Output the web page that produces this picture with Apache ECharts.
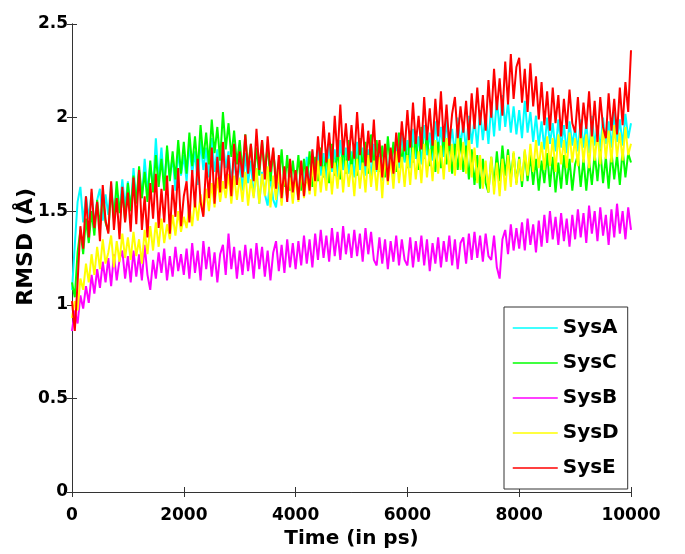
<!DOCTYPE html>
<html>
<head>
<meta charset="utf-8">
<script src="https://cdn.jsdelivr.net/npm/echarts@6/dist/echarts.min.js"></script>
<style>html,body{margin:0;padding:0;background:#fff}#c{width:685px;height:554px}</style>
</head>
<body>
<div id="c"></div>
<script>
// Time axis: 0 .. 10000 ps, samples evenly spaced
const T_MIN = 0, T_MAX = 10000;
const xTicks = [0, 2000, 4000, 6000, 8000, 10000];
const yTicks = [0, 0.5, 1, 1.5, 2, 2.5];
const seriesNames = ['SysA', 'SysC', 'SysB', 'SysD', 'SysE'];

const sysA = [
1.08,1.32,1.55,1.63,1.44,1.58,1.46,1.60,1.42,1.56,1.62,1.45,1.59,1.48,1.65,1.47,1.61,1.50,1.67,1.52,
1.66,1.50,1.73,1.55,1.71,1.57,1.78,1.60,1.75,1.62,1.89,1.66,1.84,1.63,1.83,1.68,1.79,1.61,1.82,1.69,
1.80,1.66,1.86,1.70,1.82,1.64,1.88,1.72,1.84,1.68,1.89,1.71,1.83,1.67,1.87,1.73,1.82,1.66,1.78,1.64,
1.76,1.61,1.81,1.65,1.77,1.58,1.73,1.54,1.71,1.59,1.53,1.69,1.56,1.52,1.67,1.55,1.71,1.57,1.73,1.60,
1.71,1.56,1.76,1.61,1.79,1.64,1.82,1.67,1.84,1.69,1.81,1.66,1.86,1.71,1.83,1.68,1.88,1.72,1.84,1.70,
1.82,1.68,1.87,1.72,1.84,1.69,1.83,1.67,1.86,1.71,1.81,1.66,1.85,1.70,1.82,1.68,1.89,1.73,1.92,1.76,
1.88,1.73,1.94,1.78,1.90,1.75,1.96,1.80,1.92,1.77,1.98,1.82,1.95,1.79,1.99,1.83,1.94,1.80,2.00,1.85,
1.97,1.82,2.01,1.86,1.99,1.84,2.04,1.88,2.02,1.86,2.07,1.90,2.10,1.93,2.12,1.95,2.08,1.92,2.06,1.91,
2.04,1.89,2.09,1.92,2.03,1.87,2.01,1.85,1.98,1.83,2.00,1.86,1.97,1.82,1.99,1.84,1.96,1.81,1.98,1.85,
1.95,1.82,1.99,1.84,1.97,1.81,2.01,1.85,1.96,1.83,2.00,1.86,1.98,1.84,2.03,1.87,1.99,1.85,2.02,1.89,
1.97];

const sysC = [
1.12,1.04,1.28,1.40,1.27,1.46,1.33,1.50,1.37,1.56,1.42,1.59,1.44,1.39,1.62,1.46,1.66,1.49,1.61,1.45,
1.65,1.50,1.69,1.54,1.74,1.57,1.71,1.55,1.77,1.60,1.80,1.63,1.78,1.61,1.85,1.66,1.82,1.67,1.88,1.70,
1.87,1.70,1.92,1.74,1.90,1.72,1.96,1.78,1.92,1.75,1.99,1.81,1.95,1.77,2.03,1.83,1.97,1.79,1.93,1.75,
1.88,1.71,1.91,1.73,1.86,1.67,1.84,1.69,1.88,1.71,1.85,1.66,1.82,1.68,1.65,1.83,1.63,1.80,1.61,1.77,
1.64,1.80,1.61,1.78,1.65,1.82,1.63,1.79,1.66,1.84,1.68,1.81,1.65,1.86,1.69,1.83,1.67,1.85,1.70,1.88,
1.72,1.86,1.69,1.89,1.73,1.87,1.70,1.91,1.74,1.88,1.71,1.85,1.68,1.90,1.73,1.87,1.71,1.92,1.75,1.89,
1.73,1.93,1.76,1.90,1.72,1.95,1.78,1.91,1.74,1.89,1.71,1.87,1.73,1.92,1.75,1.88,1.70,1.86,1.72,1.89,
1.71,1.85,1.67,1.83,1.64,1.80,1.62,1.78,1.65,1.60,1.79,1.63,1.82,1.66,1.85,1.69,1.83,1.67,1.81,1.65,
1.79,1.63,1.82,1.66,1.80,1.64,1.78,1.61,1.77,1.65,1.81,1.63,1.79,1.60,1.76,1.62,1.80,1.64,1.78,1.61,
1.75,1.80,1.63,1.78,1.61,1.77,1.64,1.81,1.66,1.83,1.65,1.79,1.62,1.82,1.67,1.80,1.64,1.83,1.68,1.81,
1.76];

const sysB = [
0.86,0.97,0.90,1.05,0.98,1.10,1.01,1.16,1.06,1.19,1.09,1.23,1.12,1.25,1.10,1.27,1.13,1.24,1.29,1.14,
1.26,1.12,1.29,1.15,1.27,1.13,1.32,1.16,1.08,1.24,1.14,1.28,1.17,1.30,1.13,1.26,1.15,1.31,1.18,1.27,
1.16,1.30,1.14,1.33,1.17,1.29,1.13,1.34,1.19,1.31,1.15,1.28,1.12,1.27,1.32,1.16,1.38,1.19,1.31,1.14,
1.29,1.16,1.32,1.18,1.30,1.14,1.33,1.19,1.31,1.15,1.29,1.13,1.28,1.34,1.18,1.32,1.17,1.35,1.20,1.33,
1.19,1.34,1.21,1.37,1.22,1.35,1.20,1.38,1.24,1.40,1.25,1.37,1.23,1.41,1.26,1.39,1.24,1.42,1.27,1.38,
1.25,1.40,1.26,1.38,1.23,1.41,1.27,1.39,1.24,1.21,1.36,1.22,1.35,1.19,1.34,1.23,1.37,1.21,1.35,1.24,
1.21,1.36,1.20,1.34,1.23,1.37,1.21,1.35,1.18,1.33,1.22,1.36,1.20,1.34,1.23,1.37,1.21,1.35,1.19,1.33,
1.36,1.22,1.38,1.24,1.39,1.25,1.37,1.23,1.38,1.26,1.24,1.37,1.20,1.14,1.35,1.40,1.27,1.43,1.29,1.41,
1.30,1.44,1.29,1.46,1.32,1.43,1.28,1.45,1.31,1.48,1.33,1.50,1.35,1.47,1.32,1.49,1.34,1.46,1.31,1.48,
1.35,1.51,1.36,1.49,1.33,1.53,1.38,1.50,1.34,1.52,1.37,1.48,1.32,1.51,1.36,1.54,1.38,1.50,1.35,1.52,
1.40];

const sysD = [
0.93,1.02,0.97,1.14,1.08,1.22,1.12,1.27,1.16,1.31,1.19,1.35,1.22,1.28,1.37,1.20,1.34,1.23,1.38,1.25,
1.36,1.24,1.39,1.26,1.35,1.22,1.40,1.27,1.42,1.29,1.44,1.31,1.46,1.33,1.43,1.35,1.48,1.37,1.50,1.39,
1.47,1.41,1.53,1.42,1.56,1.45,1.59,1.48,1.62,1.50,1.65,1.52,1.68,1.55,1.66,1.57,1.70,1.54,1.69,1.56,
1.68,1.55,1.71,1.53,1.67,1.57,1.73,1.54,1.70,1.58,1.74,1.52,1.69,1.56,1.72,1.53,1.71,1.57,1.68,1.54,
1.69,1.55,1.72,1.57,1.70,1.59,1.75,1.58,1.77,1.60,1.74,1.61,1.78,1.59,1.76,1.62,1.79,1.60,1.77,1.63,
1.75,1.58,1.78,1.62,1.76,1.60,1.80,1.63,1.77,1.61,1.79,1.57,1.81,1.64,1.78,1.62,1.82,1.65,1.79,1.63,
1.80,1.64,1.84,1.67,1.82,1.65,1.86,1.68,1.83,1.66,1.88,1.70,1.85,1.67,1.89,1.71,1.86,1.69,1.90,1.72,
1.87,1.70,1.91,1.68,1.84,1.65,1.80,1.62,1.77,1.60,1.79,1.59,1.76,1.58,1.78,1.61,1.80,1.63,1.82,1.64,
1.78,1.66,1.83,1.69,1.86,1.71,1.88,1.73,1.87,1.72,1.90,1.74,1.89,1.71,1.91,1.75,1.88,1.73,1.92,1.76,
1.89,1.74,1.93,1.76,1.91,1.73,1.94,1.77,1.92,1.75,1.95,1.78,1.93,1.76,1.96,1.79,1.92,1.77,1.95,1.80,
1.86];

const sysE = [
1.02,0.86,1.12,1.42,1.30,1.58,1.36,1.62,1.41,1.55,1.34,1.64,1.45,1.38,1.66,1.40,1.57,1.35,1.63,1.44,
1.60,1.39,1.68,1.43,1.72,1.40,1.58,1.36,1.65,1.46,1.70,1.41,1.62,1.44,1.69,1.38,1.64,1.47,1.73,1.42,
1.58,1.66,1.44,1.72,1.52,1.78,1.55,1.47,1.76,1.57,1.84,1.54,1.79,1.60,1.87,1.62,1.80,1.58,1.86,1.64,
1.82,1.68,1.91,1.70,1.86,1.66,1.94,1.72,1.88,1.67,1.90,1.71,1.84,1.62,1.80,1.57,1.74,1.55,1.78,1.60,
1.72,1.56,1.77,1.58,1.74,1.61,1.83,1.66,1.90,1.74,1.98,1.76,1.92,1.73,2.01,1.79,2.07,1.80,1.97,1.77,
1.96,1.78,2.03,1.80,1.97,1.74,1.93,1.76,1.99,1.72,1.88,1.68,1.86,1.66,1.84,1.70,1.92,1.76,1.98,1.82,
2.04,1.84,2.08,1.86,2.01,1.83,2.11,1.88,2.05,1.85,2.10,1.90,2.14,1.87,2.07,1.85,2.02,2.11,1.89,2.06,
1.92,2.09,1.88,2.13,1.94,2.16,1.96,2.12,1.93,2.20,2.00,2.26,2.04,2.21,2.01,2.30,2.07,2.34,2.10,2.27,
2.32,2.08,2.26,2.03,2.29,2.06,2.22,1.99,2.19,1.96,2.14,1.93,2.16,1.97,2.12,1.90,2.10,1.94,2.15,1.97,
1.92,2.11,1.89,2.08,1.94,2.14,1.90,2.09,1.87,2.11,1.95,1.89,2.13,1.93,2.10,1.91,2.16,1.96,2.19,2.03,
2.36];

const seriesValues = [sysA, sysC, sysB, sysD, sysE];
const seriesColors = ['#00FFFF', '#00FF00', '#FF00FF', '#FFFF00', '#FF0000'];

function toPairs(vals) {
  const step = (T_MAX - T_MIN) / (vals.length - 1);
  return vals.map((v, i) => [T_MIN + i * step, v]);
}

const FONT = 'DejaVu Sans';
const axisColor = '#333';

const chart = echarts.init(document.getElementById('c'), null, {renderer: 'canvas'});
const option = {
  animation: false,
  backgroundColor: '#fff',
  grid: {left: 72, right: 54, top: 24, bottom: 62, containLabel: false},
  legend: {
    orient: 'vertical',
    left: 504,
    top: 307,
    data: seriesNames,
    itemWidth: 45,
    itemHeight: 14,
    itemGap: 15,
    padding: [11, 9, 11, 8],
    borderColor: axisColor,
    borderWidth: 1,
    backgroundColor: '#fff',
    itemStyle: {opacity: 0},
    lineStyle: {width: 1.5},
    textStyle: {fontFamily: FONT, fontWeight: 'bold', fontSize: 20, color: '#000'}
  },
  xAxis: [{
    type: 'value', min: xTicks[0], max: xTicks[xTicks.length - 1], interval: xTicks[1] - xTicks[0],
    position: 'bottom',
    name: 'Time (in ps)', nameLocation: 'middle', nameGap: 25,
    nameTextStyle: {fontFamily: FONT, fontWeight: 'bold', fontSize: 20, color: '#000'},
    axisLine: {lineStyle: {color: axisColor, width: 1}},
    axisTick: {inside: true, length: 5, lineStyle: {color: axisColor}},
    axisLabel: {fontFamily: FONT, fontWeight: 'bold', fontSize: 17, color: '#000', margin: 15, formatter: v => String(v)},
    splitLine: {show: false}
  }, {
    type: 'value', min: xTicks[0], max: xTicks[xTicks.length - 1], interval: xTicks[1] - xTicks[0],
    position: 'top',
    axisLine: {show: true, lineStyle: {color: axisColor, width: 1}},
    axisTick: {show: true, inside: true, length: 5, lineStyle: {color: axisColor}},
    axisLabel: {show: false},
    splitLine: {show: false}
  }],
  yAxis: [{
    type: 'value', min: yTicks[0], max: yTicks[yTicks.length - 1], interval: yTicks[1] - yTicks[0],
    position: 'left',
    axisLine: {show: true, lineStyle: {color: axisColor, width: 1}},
    axisTick: {show: true, inside: true, length: 5, lineStyle: {color: axisColor}},
    axisLabel: {fontFamily: FONT, fontWeight: 'bold', fontSize: 17, color: '#000', margin: 4},
    splitLine: {show: false}
  }, {
    type: 'value', min: yTicks[0], max: yTicks[yTicks.length - 1], interval: yTicks[1] - yTicks[0],
    position: 'right',
    axisLine: {show: true, lineStyle: {color: axisColor, width: 1}},
    axisTick: {show: true, inside: true, length: 5, lineStyle: {color: axisColor}},
    axisLabel: {show: false},
    splitLine: {show: false}
  }],
  graphic: [{
    type: 'text',
    left: 15,
    top: 188,
    rotation: Math.PI / 2,
    style: {text: 'RMSD (Å)', fontFamily: FONT, fontWeight: 'bold', fontSize: 22, fill: '#000'}
  }],
  series: seriesNames.map((name, i) => ({
    name: name,
    type: 'line',
    xAxisIndex: 0,
    yAxisIndex: 0,
    data: toPairs(seriesValues[i]),
    symbol: 'none',
    color: seriesColors[i],
    lineStyle: {width: 2, color: seriesColors[i]},
    emphasis: {disabled: true}
  }))
};
chart.setOption(option);
</script>
</body>
</html>
